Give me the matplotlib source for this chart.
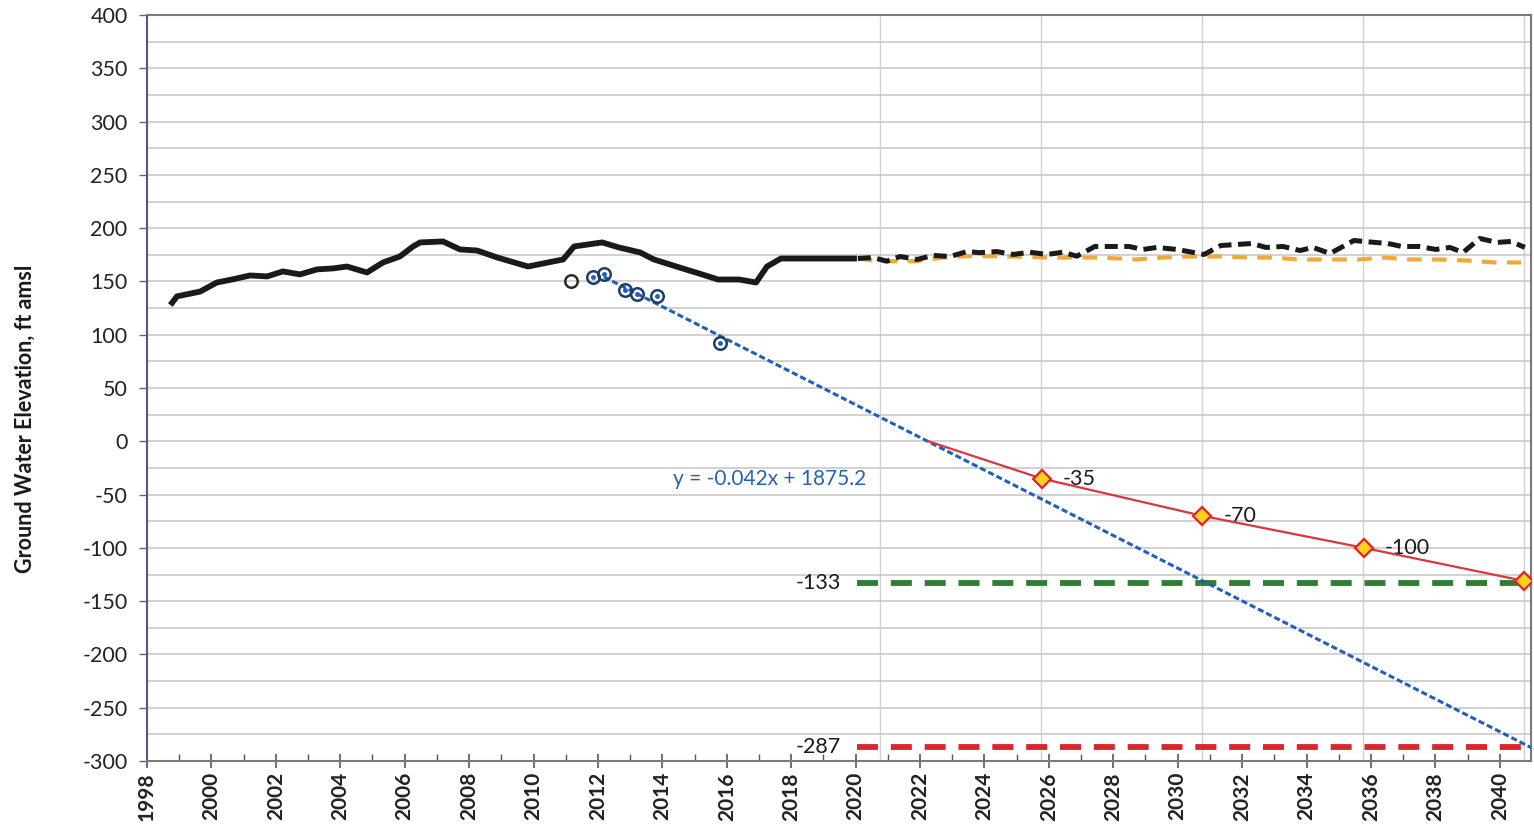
import matplotlib
matplotlib.use("Agg")
import matplotlib.pyplot as plt
from matplotlib.ticker import MultipleLocator

plt.rcParams['font.family'] = ['Lato', 'DejaVu Sans']
plt.rcParams['axes.unicode_minus'] = False

# historical water level (solid black)
hist_years = [1998.78, 1998.93, 1999.65, 2000.17, 2000.67, 2001.20, 2001.73, 2002.22,
              2002.75, 2003.28, 2003.77, 2004.21, 2004.83, 2005.33, 2005.85, 2006.26,
              2006.48, 2007.19, 2007.72, 2008.25, 2008.87, 2009.83, 2010.60, 2010.92,
              2011.26, 2012.13, 2012.65, 2013.31, 2013.74, 2014.73, 2015.04, 2015.73,
              2016.38, 2016.91, 2017.25, 2017.68, 2019.95]
hist_vals = [130, 136, 140.5, 149, 152, 155.6, 154.7, 159.4,
             156.6, 161.3, 162.2, 164, 158.4, 167.8, 173.4, 182.8,
             186.6, 187.5, 180, 179, 172.5, 164, 168.7, 170.6,
             182.8, 186.6, 181.9, 177.2, 170.6, 161.2, 158.4, 151.8,
             151.8, 149, 164, 171.5, 171.5]

# forecast (dashed black)
fc_years = [2020.07, 2020.54, 2020.97, 2021.38, 2021.91, 2022.40, 2022.93, 2023.46,
            2023.86, 2024.39, 2024.89, 2025.41, 2025.94, 2026.44, 2026.87, 2027.43,
            2028.49, 2028.92, 2029.36, 2029.98, 2030.82, 2031.34, 2032.31, 2032.74,
            2033.27, 2033.80, 2034.20, 2034.73, 2035.47, 2036.12, 2036.53, 2036.96,
            2037.49, 2038.02, 2038.45, 2038.86, 2039.38, 2039.91, 2040.35, 2040.78]
fc_vals = [171.5, 172.4, 169, 173.4, 170.6, 174.4, 173.4, 178,
           177, 178, 175.3, 177.4, 175.3, 177.4, 173.7, 182.8,
           182.8, 180, 181.9, 180, 175.3, 183.7, 185.6, 181.9,
           182.8, 179, 181.9, 176.2, 188.4, 186.6, 185.6, 182.8,
           182.8, 180, 181.9, 177.2, 190.3, 186.6, 187.5, 181.9]

# alternate forecast (dashed orange)
alt_years = [2020.07, 2020.76, 2021.91, 2022.71, 2023.46, 2024.26, 2025.32, 2026.03,
             2026.97, 2027.65, 2028.70, 2029.54, 2030.41, 2031.34, 2032.21, 2032.93,
             2033.80, 2034.63, 2035.60, 2036.44, 2037.18, 2038.11, 2038.98, 2039.82,
             2040.66]
alt_vals = [171.5, 169, 169, 172.4, 173.7, 173.7, 173, 172.4,
            172.4, 172.4, 170.6, 172.4, 173.4, 173.4, 172.4, 172.4,
            170.6, 170.6, 170.6, 172.4, 170.6, 170.6, 169.6, 167.8,
            167.8]

# measured points
open_years = [2011.16]
open_vals = [150]
meas_years = [2011.85, 2012.19, 2012.84, 2013.21, 2013.83, 2015.79]
meas_vals = [153.7, 157.4, 142.4, 138.6, 136.7, 92.6]

# linear trend shown on chart (x = Excel date serial)
trend_slope = -0.042
trend_intercept = 1875.2
trend_years = [2012.19, 2041.2]

# projected decline (red line with diamonds)
proj_years = [2022.26, 2025.78, 2030.77, 2035.78, 2040.75]
proj_vals = [0, -35, -70, -100, -131]
proj_labels = ["", "-35", "-70", "-100", ""]

# reference levels
level_years = [2020.05, 2040.75]
level_green = -133
level_red = -287

vgrid_years = [2020.76, 2025.76, 2030.76, 2035.76, 2040.76]


def to_serial(year):
    return (year - 1900) * 365.2425 + 1


fig = plt.figure(figsize=(15.34, 8.27), dpi=100)
ax = fig.add_axes([147 / 1534, 1 - 761 / 827, (1531 - 147) / 1534, (761 - 15) / 827])

ax.set_xlim(1998, 2040.97)
ax.set_ylim(-300, 400)

# grid
ax.yaxis.set_minor_locator(MultipleLocator(25))
ax.yaxis.set_major_locator(MultipleLocator(50))
ax.grid(axis='y', which='both', color='#c9c9c9', linewidth=1.2)
for vx in vgrid_years:
    ax.axvline(vx, color='#d2d2d2', linewidth=1.0, zorder=0.5)
ax.set_axisbelow(True)

ax.plot(hist_years, hist_vals, color='#1a1a1a', linewidth=4.2, solid_joinstyle='round', zorder=4)
ax.plot(alt_years, alt_vals, color='#f2a93b', linewidth=3.0, linestyle=(0, (3.5, 2.5)), zorder=3)
ax.plot(fc_years, fc_vals, color='#1a1a1a', linewidth=3.6, linestyle=(0, (2.6, 1.3)), zorder=4)

trend_vals = [trend_slope * to_serial(y) + trend_intercept for y in trend_years]
ax.plot(trend_years, trend_vals, color='#1f5fbf', linewidth=2.2, linestyle=(0, (2.0, 1.0)), zorder=5)

ax.plot(level_years, [level_green] * 2, color='#2e7d32', linewidth=4.2, linestyle=(0, (3.6, 2.2)), zorder=3)
ax.plot(level_years, [level_red] * 2, color='#d9262e', linewidth=4.2, linestyle=(0, (3.6, 2.2)), zorder=3)

ax.plot(open_years, open_vals, linestyle='none', marker='o', markersize=9, markerfacecolor='none',
        markeredgecolor='#2b2b2b', markeredgewidth=1.8, zorder=6)
ax.plot(meas_years, meas_vals, linestyle='none', marker='o', markersize=9, markerfacecolor='none',
        markeredgecolor='#1d3f66', markeredgewidth=1.8, zorder=6)
ax.plot(meas_years, meas_vals, linestyle='none', marker='o', markersize=2.5, color='#1f5fbf', zorder=6)

ax.plot(proj_years, proj_vals, color='#d9363e', linewidth=1.6, zorder=6)
ax.plot(proj_years[1:], proj_vals[1:], linestyle='none', marker='D', markersize=9,
        markerfacecolor='#ffd21f', markeredgecolor='#e8202a', markeredgewidth=1.6, zorder=7)
for yr, v, lab in zip(proj_years, proj_vals, proj_labels):
    if lab:
        ax.annotate(lab, (yr, v), xytext=(15, 0), textcoords='offset points',
                    ha='left', va='center', fontsize=15.5, color='#1a1a1a')

ax.text(level_years[0] - 0.5, level_green, str(level_green), ha='right', va='center',
        fontsize=15.5, color='#1a1a1a')
ax.text(level_years[0] - 0.5, level_red, str(level_red), ha='right', va='center',
        fontsize=15.5, color='#1a1a1a')

ax.text(2017.34, -35, "y = -0.042x + 1875.2", ha='center', va='center',
        fontsize=15, color='#2462b4')

# axes styling
ax.xaxis.set_minor_locator(MultipleLocator(1))
xt = list(range(1998, 2041, 2))
ax.set_xticks(xt)
ax.set_xticklabels([str(t) for t in xt], rotation=90, fontsize=15, fontweight='bold', color='#222222')
ax.tick_params(axis='x', which='major', direction='inout', length=10, width=1.2, color='#555555', pad=3)
ax.tick_params(axis='x', which='minor', direction='in', length=5, width=1.0, color='#555555')
ax.tick_params(axis='y', which='major', direction='out', length=6, width=1.0, color='#666666',
               labelsize=15.5, labelcolor='#222222', pad=8)
ax.tick_params(axis='y', which='minor', length=0)

for side in ['top', 'right', 'bottom']:
    ax.spines[side].set_color('#7a7a7a')
    ax.spines[side].set_linewidth(1.5)
ax.spines['left'].set_color('#4a5a8a')
ax.spines['left'].set_linewidth(1.5)

fig.text(25 / 1534, 1 - 419 / 827, "Ground Water Elevation, ft amsl", rotation=90,
         ha='center', va='center', fontsize=15.5, fontweight='bold', color='#1a1a1a')

fig.savefig("out.png", dpi=100, facecolor='white')
